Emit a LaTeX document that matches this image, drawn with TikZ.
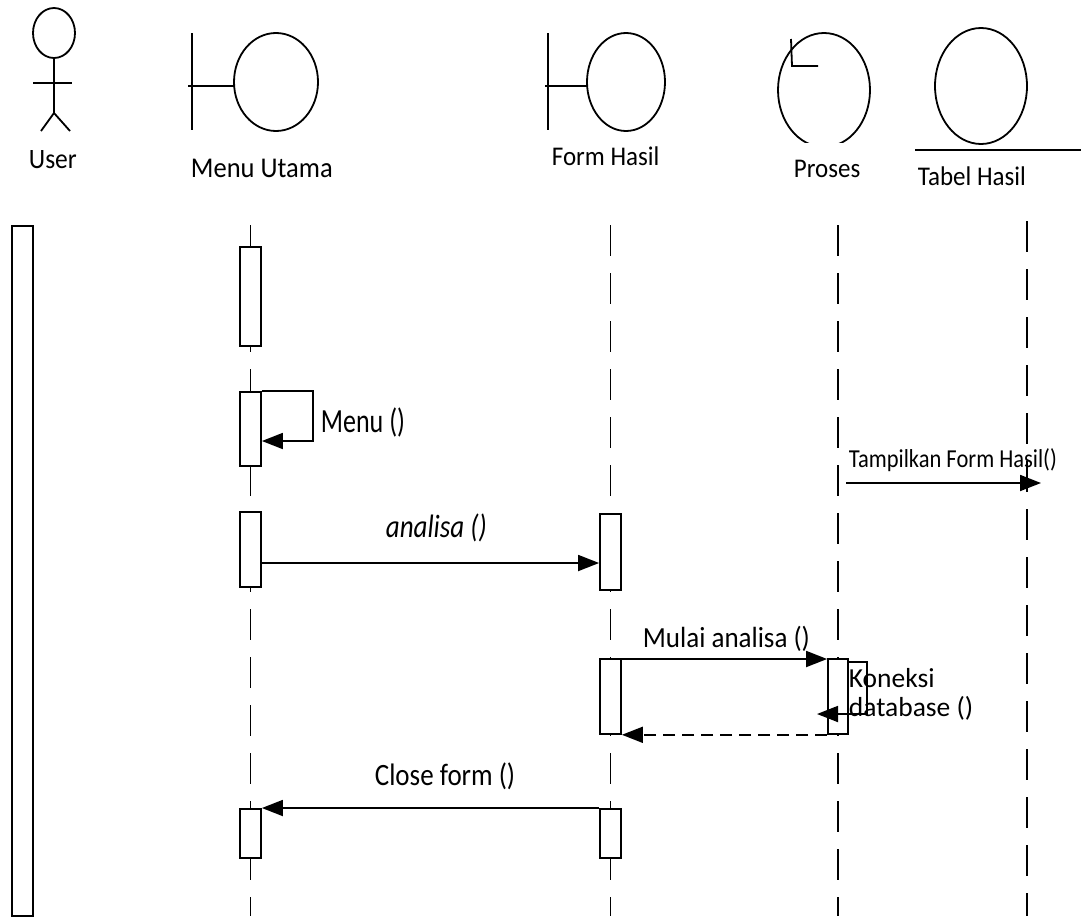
\documentclass[tikz,border=0pt]{standalone}
\usepackage{fontspec}
\setmainfont{Carlito}
\usetikzlibrary{arrows.meta}
\begin{document}
\begin{tikzpicture}[x=1pt,y=-1pt,line width=1.8pt,
  act/.style={draw,fill=white,minimum width=21pt,inner sep=0pt,line width=1.8pt},
  lifeline/.style={line width=1.8pt,dash pattern=on 31pt off 17pt},
  msg/.style={-{Triangle[length=21pt,width=16pt]}},
  retmsg/.style={-{Triangle[length=21pt,width=16pt]},dash pattern=on 12pt off 7pt},
  lbl/.style={anchor=base west,inner sep=0pt,font=\fontsize{25}{30}\selectfont},
  mlbl/.style={anchor=base west,inner sep=0pt,font=\fontsize{27}{32}\selectfont},
  slbl/.style={anchor=base west,inner sep=0pt,font=\fontsize{22.5}{26}\selectfont}]
\useasboundingbox (0,0) rectangle (1081,916);
\fill[white] (0,0) rectangle (1081,916);

% ---- User actor
\draw (54,33) ellipse [x radius=21, y radius=25];
\coordinate (uneck) at (54,58);
\coordinate (uhip) at (54,113);
\draw (uneck) -- (uhip);
\draw (33,83) -- (72,83);
\draw (41,131) -- (uhip) -- (70,131);
\node[lbl,font=\fontsize{25.5}{30}\selectfont] (userlbl) at (28,168) {\scalebox{1}[1.1]{User}};

% ---- Menu Utama boundary
\draw (192,33) -- (192,130);
\draw (188,86) -- (234,86);
\draw (276,82) ellipse [x radius=42, y radius=49];
\node[lbl,font=\fontsize{26.5}{31}\selectfont] (menulbl) at (190,177) {\scalebox{1}[1.08]{Menu Utama}};

% ---- Form Hasil boundary
\draw (548,33) -- (548,130);
\draw (545,86) -- (587,86);
\draw (626,82) ellipse [x radius=39, y radius=49];
\node[lbl] (formlbl) at (551,165) {\scalebox{1}[1.08]{Form Hasil}};

% ---- Proses control
\begin{scope}
\clip (760,0) rectangle (890,142);
\draw (824,90) ellipse [x radius=46, y radius=57];
\end{scope}
\draw (791,39) -- (792,66) -- (818,66);
\node[lbl] (proseslbl) at (793,177) {\scalebox{1}[1.08]{Proses}};

% ---- Tabel Hasil entity
\draw (981,86) ellipse [x radius=46, y radius=58];
\draw (915,150) -- (1081,150);
\node[lbl] (tabellbl) at (917,185) {\scalebox{1}[1.08]{Tabel Hasil}};

% ---- User lifeline bar
\node[act,minimum height=690pt,anchor=north] (ubar) at (22.5,225) {};

% ---- lifelines
\coordinate (mtop) at (250.5,225);
\coordinate (mbot) at (250.5,916);
\coordinate (ftop) at (610.5,225);
\coordinate (fbot) at (610.5,916);
\coordinate (ptop) at (838,225);
\coordinate (pbot) at (838,916);
\coordinate (ttop) at (1027,221);
\coordinate (tbot) at (1027,916);
\draw[lifeline] (mtop) -- (mbot);
\draw[lifeline] (ftop) -- (fbot);
\draw[lifeline] (ptop) -- (pbot);
\draw[lifeline] (ttop) -- (tbot);

% ---- activation boxes
\node[act,minimum height=99pt,anchor=north] (m1) at (250.5,246) {};
\node[act,minimum height=74pt,anchor=north] (m2) at (250.5,391) {};
\node[act,minimum height=75pt,anchor=north] (m3) at (250.5,511) {};
\node[act,minimum height=49pt,anchor=north] (m4) at (250.5,808) {};
\node[act,minimum height=76pt,anchor=north] (f1) at (610.5,513) {};
\node[act,minimum height=75pt,anchor=north] (f2) at (610.5,658) {};
\node[act,minimum height=49pt,anchor=north] (f3) at (610.5,808) {};
\node[act,minimum width=20pt,minimum height=75pt,anchor=north] (p1) at (838,658) {};

% ---- Menu () self call
\coordinate (s1) at (313,391);
\coordinate (s2) at (313,441);
\draw[msg] (m2.north east) -- (s1) -- (s2) -- (m2.east |- s2);
\node[mlbl,font=\fontsize{26}{31}\selectfont] (menucall) at (320,432) {\scalebox{1}[1.3]{Menu ()}};

% ---- Tampilkan Form Hasil()
\coordinate (tp1) at (846,483);
\coordinate (tp2) at (1041,483);
\draw[msg] (tp1) -- (tp2);
\node[slbl] (tplbl) at (848,467) {\scalebox{1}[1.15]{Tampilkan Form Hasil()}};

% ---- analisa ()
\draw[msg] (m3.east |- 0,563) -- (f1.west |- 0,563);
\node[mlbl,font=\fontsize{27}{32}\selectfont\itshape] (analbl) at (385,537) {\scalebox{1}[1.2]{analisa ()}};

% ---- Mulai analisa ()
\draw[msg] (f2.north east) ++(0,1) -- (p1.north west |- 0,659);
\node[mlbl] (mulailbl) at (642,647) {\scalebox{1}[1.08]{Mulai analisa ()}};

% ---- Koneksi database () self call
\coordinate (k0) at (848,662);
\coordinate (k1) at (867,662);
\coordinate (k2) at (867,714);
\coordinate (k3) at (817,714);
\draw[msg] (k0) -- (k1) -- (k2) -- (k3);
\node[mlbl,font=\fontsize{27.5}{32}\selectfont] (kon1) at (848,687) {Koneksi};
\node[mlbl,font=\fontsize{27.5}{32}\selectfont] (kon2) at (848,716) {database ()};

% ---- return (dashed)
\draw[retmsg] (p1.south west) -- (f2.south east);

% ---- Close form ()
\draw[msg] (f3.north west) -- (m4.north east);
\node[mlbl] (closelbl) at (374,785) {\scalebox{1}[1.15]{Close form ()}};
\end{tikzpicture}
\end{document}
